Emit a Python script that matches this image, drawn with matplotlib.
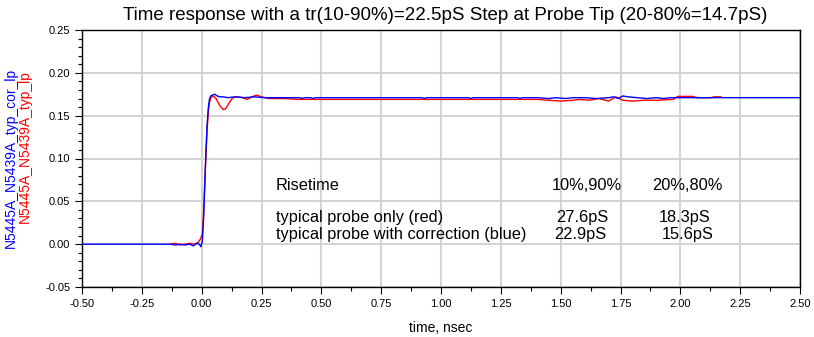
import matplotlib
matplotlib.use("Agg")
import matplotlib.pyplot as plt
from matplotlib.ticker import MultipleLocator, FormatStrFormatter

plt.rcParams['font.family'] = ['Liberation Sans', 'DejaVu Sans']

# Corrected probe (blue)
blue_t = [-0.50, -0.13, -0.11, -0.09, -0.07, -0.05, -0.035, -0.02, -0.01, -0.003,
          0.003, 0.008, 0.013, 0.018, 0.023, 0.028, 0.033, 0.038, 0.045, 0.055,
          0.065, 0.075, 0.09, 0.11, 0.14, 0.18, 0.22, 0.26, 0.30, 0.41, 0.42, 0.43,
          0.455, 0.465, 0.475, 0.92, 0.93, 0.94, 1.115, 1.125, 1.135, 1.32, 1.33, 1.34,
          1.40, 1.45, 1.48, 1.52, 1.55, 1.60, 1.65, 1.70, 1.72, 1.74, 1.76, 1.78,
          1.82, 1.86, 1.90, 1.93, 1.96, 2.50]
blue_v = [0.0, 0.0, -0.001, 0.0, -0.001, 0.0, -0.002, 0.001, 0.0, -0.003,
          0.004, 0.03, 0.07, 0.11, 0.14, 0.16, 0.170, 0.173, 0.174, 0.175,
          0.173, 0.172, 0.172, 0.171, 0.172, 0.171, 0.172, 0.171, 0.171, 0.171, 0.170, 0.171,
          0.171, 0.170, 0.171, 0.171, 0.170, 0.171, 0.171, 0.170, 0.171, 0.171, 0.170, 0.171,
          0.171, 0.170, 0.171, 0.170, 0.171, 0.171, 0.170, 0.171, 0.172, 0.170, 0.173, 0.172,
          0.171, 0.170, 0.171, 0.170, 0.171, 0.171]

# Typical probe only (red)
red_t = [-0.13, -0.11, -0.09, -0.07, -0.05, -0.03, -0.015, -0.005, 0.003, 0.008,
         0.013, 0.018, 0.023, 0.028, 0.033, 0.038, 0.048, 0.06, 0.075, 0.09, 0.10,
         0.115, 0.13, 0.15, 0.17, 0.19, 0.21, 0.23, 0.25, 0.28, 0.35, 0.40, 0.80,
         1.20, 1.40, 1.45, 1.50, 1.55, 1.58, 1.62, 1.66, 1.70, 1.73, 1.76, 1.80,
         1.85, 1.90, 1.97, 1.99, 2.05, 2.07, 2.13, 2.14, 2.17]
red_v = [0.0, 0.001, -0.001, 0.0, 0.001, 0.0, 0.002, 0.006, 0.012, 0.035,
         0.07, 0.105, 0.135, 0.155, 0.166, 0.171, 0.173, 0.170, 0.162, 0.157, 0.158,
         0.165, 0.171, 0.172, 0.171, 0.169, 0.172, 0.174, 0.172, 0.170, 0.170, 0.169, 0.169,
         0.169, 0.169, 0.168, 0.167, 0.168, 0.169, 0.168, 0.170, 0.167, 0.172, 0.168, 0.167,
         0.168, 0.168, 0.169, 0.1725, 0.1725, 0.171, 0.171, 0.172, 0.172]

x_ticks = [-0.50, -0.25, 0.00, 0.25, 0.50, 0.75, 1.00, 1.25, 1.50, 1.75, 2.00, 2.25, 2.50]
y_ticks = [-0.05, 0.00, 0.05, 0.10, 0.15, 0.20, 0.25]

title = "Time response with a tr(10-90%)=22.5pS Step at Probe Tip (20-80%=14.7pS)"
blue_label = "N5445A_N5439A_typ_cor_lp"
red_label = "N5445A_N5439A_typ_lp"

fig = plt.figure(figsize=(8.14, 3.37), dpi=100)
ax = fig.add_axes([82/814, 50/337, 718/814, 257/337])

ax.plot(red_t, red_v, color='#ff0000', lw=1.0, zorder=3)
ax.plot(blue_t, blue_v, color='#0000ff', lw=1.0, zorder=4)

ax.set_xlim(-0.5, 2.5)
ax.set_ylim(-0.05, 0.25)
ax.set_xticks(x_ticks)
ax.set_yticks(y_ticks)
ax.xaxis.set_minor_locator(MultipleLocator(0.125))
ax.yaxis.set_minor_locator(MultipleLocator(0.01))
ax.xaxis.set_major_formatter(FormatStrFormatter('%.2f'))
ax.yaxis.set_major_formatter(FormatStrFormatter('%.2f'))
ax.tick_params(axis='both', which='major', direction='out', length=5, width=0.8,
               labelsize=8, colors='black')
ax.tick_params(axis='both', which='minor', direction='out', length=3, width=0.8)
ax.grid(True, which='major', color='#d4d4d4', lw=1.5, zorder=0)
ax.set_axisbelow(True)
for s in ax.spines.values():
    s.set_color('black')
    s.set_linewidth(1.0)

fig.text(445/814, 1 - 15/337, title, fontsize=13.5, ha='center', va='center')
fig.text(441/814, 1 - 328/337, "time, nsec", fontsize=10, ha='center', va='center')

fig.text(11/814, 1 - 158/337, blue_label, color='#0000ff', rotation=90, fontsize=10,
         ha='center', va='center')
fig.text(25/814, 1 - 147/337, red_label, color='#ff0000', rotation=90, fontsize=10,
         ha='center', va='center')

tf = dict(fontsize=11.8, va='center')
ax.text(0.31, 0.069, "Risetime", ha='left', **tf)
ax.text(1.61, 0.069, "10%,90%", ha='center', **tf)
ax.text(2.03, 0.069, "20%,80%", ha='center', **tf)
ax.text(0.31, 0.0316, "typical probe only (red)", ha='left', **tf)
ax.text(1.59, 0.0316, "27.6pS", ha='center', **tf)
ax.text(2.02, 0.0316, "18.3pS", ha='center', **tf)
ax.text(0.31, 0.0117, "typical probe with correction (blue)", ha='left', **tf)
ax.text(1.58, 0.0117, "22.9pS", ha='center', **tf)
ax.text(2.03, 0.0117, "15.6pS", ha='center', **tf)

fig.savefig("out.png", dpi=100)
